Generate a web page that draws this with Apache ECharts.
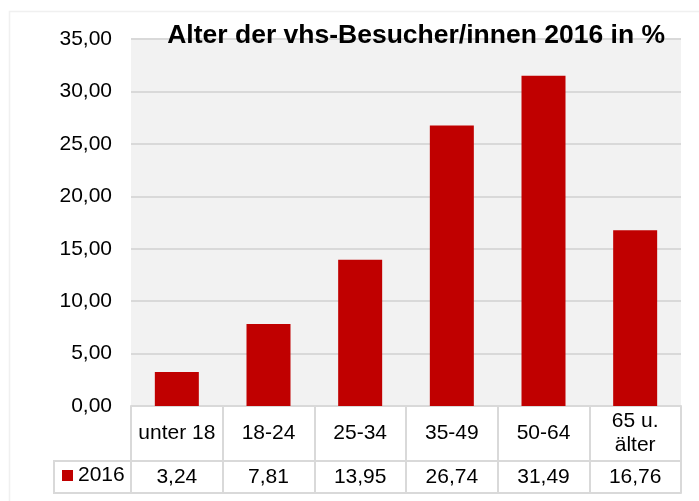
<!DOCTYPE html>
<html>
<head>
<meta charset="utf-8">
<script src="https://cdn.jsdelivr.net/npm/echarts@6/dist/echarts.min.js"></script>
<style>
html,body{margin:0;padding:0;background:#fff;}
#c{width:699px;height:501px;}
</style>
</head>
<body>
<div id="c"></div>
<script>
var titleText = 'Alter der vhs-Besucher/innen 2016 in %';
var seriesName = '2016';
var categories = ['unter 18', '18-24', '25-34', '35-49', '50-64', '65 u.\nälter'];
var values = [3.24, 7.81, 13.95, 26.74, 31.49, 16.76];
var yTicks = { min: 0, max: 35, interval: 5 };

function fmt(v) { return Number(v).toFixed(2).replace('.', ','); }

var lineColor = '#d9d9d9';
var font = 'Liberation Sans, Arial, sans-serif';
var chart = echarts.init(document.getElementById('c'), null, { renderer: 'canvas' });
chart.setOption({
  animation: false,
  backgroundColor: '#ffffff',
  title: {
    text: titleText,
    right: 34, top: 22, padding: 0,
    textStyle: { fontFamily: font, fontSize: 26.5, fontWeight: 'bold', color: '#000' }
  },
  legend: {
    data: [seriesName],
    left: 62, top: 465, padding: 0,
    icon: 'rect', itemWidth: 11, itemHeight: 11, itemGap: 5,
    textStyle: { fontFamily: font, fontSize: 21, color: '#000' }
  },
  grid: {
    left: 131, right: 18, top: 39, bottom: 95,
    show: true, backgroundColor: '#f2f2f2', borderWidth: 0
  },
  xAxis: [
    {
      type: 'category', data: categories, position: 'bottom',
      axisLine: { show: true, lineStyle: { color: lineColor, width: 2 } },
      axisTick: { show: true, length: 87, lineStyle: { color: lineColor, width: 2 } },
      axisLabel: { margin: 27, verticalAlign: 'middle', lineHeight: 24, fontFamily: font, fontSize: 21, color: '#000', interval: 0 },
      splitLine: { show: false }
    },
    {
      type: 'category', data: categories, position: 'bottom', offset: 55,
      axisLine: { show: true, lineStyle: { color: lineColor, width: 2 } },
      axisTick: { show: false },
      axisLabel: { margin: 16, verticalAlign: 'middle', fontFamily: font, fontSize: 21, color: '#000', interval: 0,
        formatter: function (v, i) { return fmt(values[i]); } },
      splitLine: { show: false }
    },
    {
      type: 'category', data: categories, position: 'bottom', offset: 87,
      axisLine: { show: true, lineStyle: { color: lineColor, width: 2 } },
      axisTick: { show: false }, axisLabel: { show: false }, splitLine: { show: false }
    }
  ],
  yAxis: {
    type: 'value', min: yTicks.min, max: yTicks.max, interval: yTicks.interval,
    axisLine: { show: false }, axisTick: { show: false },
    axisLabel: { margin: 19, fontFamily: font, fontSize: 21, color: '#000', formatter: fmt },
    splitLine: { show: true, lineStyle: { color: lineColor, width: 2 } }
  },
  series: [{
    name: seriesName, type: 'bar', xAxisIndex: 0, data: values,
    barWidth: '48%',
    itemStyle: { color: '#c00000' }
  }],
  graphic: [
    { type: 'rect', silent: true, shape: { x: 9.5, y: 11.5, width: 720, height: 520 },
      style: { fill: 'none', stroke: '#f0f0f0', lineWidth: 1.5 } },
    { type: 'rect', silent: true, shape: { x: 54, y: 461, width: 77, height: 32 },
      style: { fill: 'none', stroke: lineColor, lineWidth: 2 } }
  ]
});
</script>
</body>
</html>
